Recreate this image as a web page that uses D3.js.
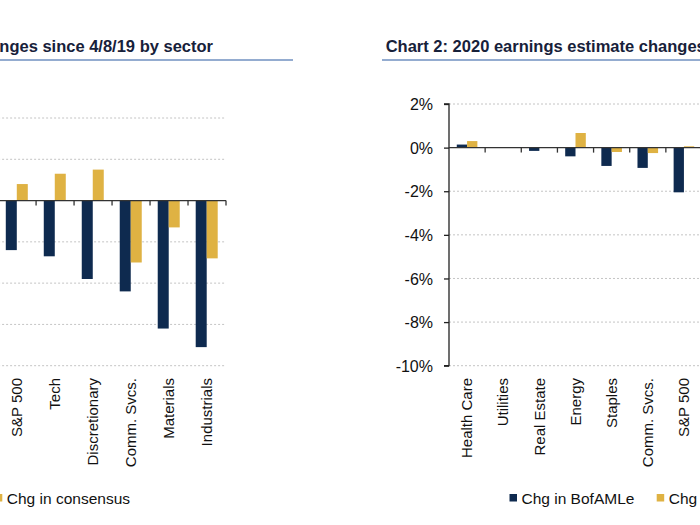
<!DOCTYPE html>
<html><head><meta charset="utf-8">
<script src="https://cdn.jsdelivr.net/npm/d3@7"></script>
<style>
html,body{margin:0;padding:0;background:#fff;}
svg{display:block;font-family:"Liberation Sans",Arial,sans-serif;}
</style></head>
<body>
<svg id="c" width="700" height="525"></svg>
<script>
// ---- data ----
const leftTitle = "Chart 1: 2019 earnings estimate changes since 4/8/19 by sector";
const rightTitle = "Chart 2: 2020 earnings estimate changes since 4/8/19 by sector";
const leftCategories = ["S&P 500","Tech","Discretionary","Comm. Svcs.","Materials","Industrials"];
const leftBofAML = [-1.2,-1.35,-1.9,-2.2,-3.1,-3.55];
const leftConsensus = [0.4,0.65,0.75,-1.5,-0.65,-1.4];
const leftTicks = [2,1,0,-1,-2,-3,-4];
const rightCategories = ["Health Care","Utilities","Real Estate","Energy","Staples","Comm. Svcs.","S&P 500"];
const rightBofAML = [0.14,0,-0.15,-0.4,-0.84,-0.93,-2.05];
const rightConsensus = [0.3,0,0.02,0.67,-0.2,-0.25,0.06];
const rightTicks = [2,0,-2,-4,-6,-8,-10];
const seriesNames = ["Chg in BofAMLe","Chg in consensus"];
const colors = ["#0e2a4f","#dfb243"];

const svg = d3.select("#c");

function drawChart(opt){
  const g = svg.append("g");
  // title
  g.append("text").attr("x",opt.titleX).attr("y",52).attr("text-anchor",opt.titleAnchor)
    .attr("font-size","16.5px").attr("font-weight","bold").attr("fill","#17213a").text(opt.title);
  g.append("line").attr("x1",opt.ruleX0).attr("x2",opt.ruleX1).attr("y1",60).attr("y2",60)
    .attr("stroke","#7090c0").attr("stroke-width",1.5);

  const x = d3.scaleBand().domain(opt.cats).range(opt.xRange);
  const y = d3.scaleLinear().domain(opt.yDomain).range(opt.yRange);
  // grid
  g.selectAll(".grid").data(opt.ticks.filter(t=>t!==0)).enter().append("line")
    .attr("x1",opt.xRange[0]).attr("x2",opt.xRange[1])
    .attr("y1",d=>y(d)).attr("y2",d=>y(d))
    .attr("stroke","#c4c4c4").attr("stroke-dasharray","2,2").attr("stroke-width",1);

  // y axis
  if(opt.showY){
    const ya = d3.axisLeft(y).tickValues(opt.ticks).tickSize(5).tickFormat(d=>d+"%");
    const yg = g.append("g").attr("transform",`translate(${opt.xRange[0]},0)`).call(ya);
    yg.select(".domain").attr("stroke","#222").attr("stroke-width",1.3).attr("d",`M-5,${opt.yRange[1]}H0V${opt.yRange[0]}H-5`);
    yg.selectAll(".tick line").attr("stroke","#222").attr("stroke-width",1.3);
    yg.selectAll(".tick text").attr("font-size","16px").attr("fill","#111").attr("x",-16).attr("dy","0.35em")
      .attr("font-family","'Liberation Sans',Arial,sans-serif");
  }

  // bars
  const bw = opt.barW;
  opt.cats.forEach((c,i)=>{
    const cx = x(c)+x.bandwidth()/2 + (opt.pairShift||0);
    [opt.s1[i],opt.s2[i]].forEach((v,k)=>{
      g.append("rect").attr("x", k===0? cx-bw : cx).attr("width",bw)
        .attr("y", y(Math.max(0,v))).attr("height", Math.abs(y(v)-y(0)))
        .attr("fill",colors[k]);
    });
  });

  // x axis at zero
  const y0 = y(0);
  g.append("line").attr("x1",opt.xRange[0]).attr("x2",opt.xRange[1]).attr("y1",y0).attr("y2",y0)
    .attr("stroke","#333").attr("stroke-width",1.3);
  const bounds = opt.cats.map(c=>x(c)+x.bandwidth());
  g.selectAll(".xt").data(bounds).enter().append("line")
    .attr("x1",d=>d).attr("x2",d=>d).attr("y1",y0).attr("y2",y0+5)
    .attr("stroke","#333").attr("stroke-width",1.3);

  // category labels
  opt.cats.forEach(c=>{
    const cx = x(c)+x.bandwidth()/2;
    g.append("text").attr("transform",`translate(${cx},378) rotate(-90)`)
      .attr("text-anchor","end").attr("dy","0.35em").attr("font-size","15px").attr("fill","#111").text(c);
  });

  // legend
  opt.legend.forEach((L,k)=>{
    g.append("rect").attr("x",L.x).attr("y",494).attr("width",7.5).attr("height",7.5).attr("fill",colors[L.s]);
    g.append("text").attr("x",L.x+12).attr("y",503.5).attr("font-size","15.5px").attr("fill","#111").text(seriesNames[L.s]);
  });
}

drawChart({
  title:leftTitle, titleX:213, titleAnchor:"end", ruleX0:-400, ruleX1:293,
  cats:leftCategories, xRange:[-1.9,226], yDomain:[-4,2], yRange:[365.7,118],
  ticks:leftTicks, s1:leftBofAML, s2:leftConsensus, barW:11, showY:false, pairShift:-0.3,
  legend:[{x:-5.2,s:1},{x:-160,s:0}]
});
drawChart({
  title:rightTitle, titleX:385.7, titleAnchor:"start", ruleX0:382, ruleX1:720,
  cats:rightCategories, xRange:[449,702], yDomain:[-10,2], yRange:[365.7,104],
  ticks:rightTicks, s1:rightBofAML, s2:rightConsensus, barW:10.3, showY:true,
  legend:[{x:509.5,s:0},{x:656.7,s:1}]
});
</script>
</body></html>
